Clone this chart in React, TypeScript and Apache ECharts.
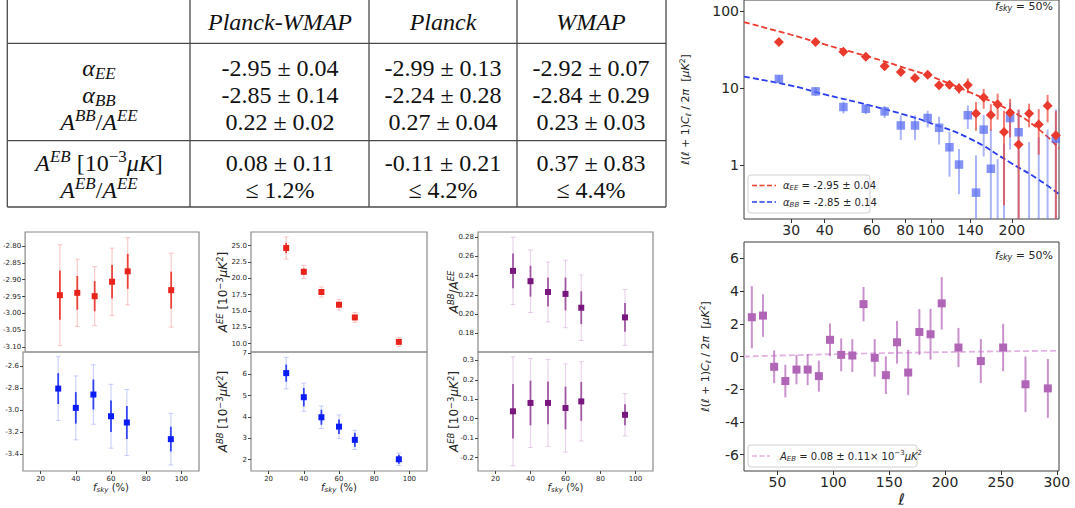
import React, { useEffect, useRef } from "react";
import * as echarts from "echarts";

// ---------------- table content ----------------
const tableHeaders = ["Planck-WMAP", "Planck", "WMAP"];
const tableRowLabels = [
  "{i|α}{sub|EE}",
  "{i|α}{sub|BB}",
  "{i|A}{sup|BB}/{i|A}{sup|EE}",
  "{i|A}{sup|EB} [10{sn|−3}{i|μK}]",
  "{i|A}{sup|EB}/{i|A}{sup|EE}",
];
const rowAlphaEE = ["-2.95 ± 0.04", "-2.99 ± 0.13", "-2.92 ± 0.07"];
const rowAlphaBB = ["-2.85 ± 0.14", "-2.24 ± 0.28", "-2.84 ± 0.29"];
const rowRatioBBEE = ["0.22 ± 0.02", "0.27 ± 0.04", "0.23 ± 0.03"];
const rowAmpEB = ["0.08 ± 0.11", "-0.11 ± 0.21", "0.37 ± 0.83"];
const rowRatioEBEE = ["≤ 1.2%", "≤ 4.2%", "≤ 4.4%"];

// ---------------- f_sky panels ----------------
const fskyPct = [30, 40, 50, 60, 69, 94];
const alphaEE = [-2.946, -2.939, -2.949, -2.906, -2.875, -2.931];
const alphaEEErrIn = [0.073, 0.05, 0.045, 0.05, 0.052, 0.055];
const alphaEEErrOut = [0.15, 0.1, 0.088, 0.1, 0.1, 0.11];
const alphaBB = [-2.802, -2.977, -2.856, -3.053, -3.11, -3.261];
const alphaBBErrIn = [0.14, 0.143, 0.136, 0.143, 0.15, 0.113];
const alphaBBErrOut = [0.29, 0.29, 0.27, 0.29, 0.3, 0.234];
const ampEE = [24.65, 21.0, 17.9, 15.95, 14.0, 10.25];
const ampEEErrIn = [0.8, 0.5, 0.4, 0.4, 0.35, 0.3];
const ampEEErrOut = [1.7, 1.0, 0.77, 0.8, 0.75, 0.7];
const ampBB = [6.06, 4.93, 3.99, 3.55, 2.93, 2.02];
const ampBBErrIn = [0.4, 0.43, 0.35, 0.34, 0.33, 0.21];
const ampBBErrOut = [0.74, 0.66, 0.53, 0.55, 0.45, 0.29];
const ratioBBEE = [0.2449, 0.2342, 0.223, 0.221, 0.2067, 0.1967];
const ratioErrIn = [0.018, 0.016, 0.015, 0.017, 0.017, 0.015];
const ratioErrOut = [0.035, 0.0325, 0.031, 0.035, 0.034, 0.029];
const ampEB = [0.038, 0.081, 0.081, 0.055, 0.089, 0.02];
const ampEBErrIn = [0.14, 0.115, 0.11, 0.11, 0.1, 0.054];
const ampEBErrOut = [0.28, 0.229, 0.223, 0.227, 0.204, 0.109];

// ---------------- power spectra (f_sky = 50%) ----------------
const ellBins = [27, 37, 47, 57, 67, 77, 87, 97, 107, 117, 127, 137, 147, 157, 167, 177, 187, 197, 212, 232, 252, 272, 292];
const dlEE = [40, 40, 29.7, 25.6, 19.3, 16.3, 13.6, 15.0, 10.9, 11.1, 10.0, 11.0, 4.7, 7.6, 4.5, 6.2, 2.7, 4.8, 1.86, 4.7, 3.37, 5.9, 2.45];
const dlEEErr = [3, 2.5, 2.2, 1.8, 1.5, 1.3, 1.2, 1.5, 1.2, 1.3, 1.5, 2.4, 1.9, 2.2, 1.7, 2.3, 2.4, 2.5, 3.4, 1.6, 2.0, 2.3, 2.6];
const dlBB = [13.2, 9.1, 5.7, 5.4, 5.0, 3.28, 3.28, 4.1, 3.06, 1.71, 1.02, 4.46, 0.44, 2.9, 0.9, -0.3, -0.6, 4.1, 2.68, -1.0, -0.8, -0.5, 2.2];
const dlBBErr = [1.5, 1.2, 1.0, 0.8, 0.9, 1.15, 1.15, 1.0, 1.2, 1.0, 0.6, 1.5, 0.9, 1.6, 2.0, 1.5, 2.5, 2.5, 2.6, 3.0, 3.1, 3.4, 3.1];
const dlEB = [2.4, 2.5, -0.63, -1.5, -0.8, -0.8, -1.2, 1.02, 0.1, 0.06, 3.2, -0.08, -1.14, 0.87, -0.98, 1.5, 1.36, 3.25, 0.55, -0.28, 0.55, -1.7, -1.95];
const dlEBErr = [1.9, 1.3, 1.0, 1.0, 0.9, 0.95, 0.95, 1.0, 1.0, 1.0, 1.05, 1.15, 1.15, 1.3, 1.38, 1.4, 1.55, 1.6, 1.2, 1.35, 1.45, 1.7, 1.8];

const fitEll = [20, 30, 40, 60, 80, 100, 140, 200, 250, 300];
const fitEE = [72, 49.5, 37, 25, 18.3, 14.2, 8.8, 5.0, 3.0, 1.65];
const fitBB = [14.1, 10.8, 8.3, 5.9, 4.5, 3.5, 2.2, 1.05, 0.66, 0.42];
const fitEBEll = [20, 100, 200, 302];
const fitEB = [0.0, 0.14, 0.27, 0.35];

// tick labels
const fskyTicks = [20, 40, 60, 80, 100];
const alphaEETicks = [-3.1, -3.05, -3.0, -2.95, -2.9, -2.85, -2.8];
const alphaBBTicks = [-3.4, -3.2, -3.0, -2.8, -2.6];
const ampEETicks = [10, 12.5, 15, 17.5, 20, 22.5, 25];
const ampBBTicks = [2, 3, 4, 5, 6, 7];
const ratioTicks = [0.18, 0.2, 0.22, 0.24, 0.26, 0.28];
const ampEBTicks = [-0.2, -0.1, 0.0, 0.1, 0.2, 0.3];
const ellLogTicks = [30, 40, 60, 80, 100, 140, 200];
const dlLogTicks = [1, 10, 100];
const ellLinTicks = [50, 100, 150, 200, 250, 300];
const ebTicks = [-6, -4, -2, 0, 2, 4, 6];

const SANS = "DejaVu Sans";
const SERIF = "Liberation Serif";
const TXT = "#262626";

const RED = "#e8231c";
const RED_IN = "rgba(232,40,30,0.85)";
const RED_OUT = "rgba(240,80,80,0.3)";
const BLUE = "#0b1cf5";
const BLUE_IN = "rgba(20,40,240,0.85)";
const BLUE_OUT = "rgba(60,80,250,0.25)";
const PURPLE = "#7a177e";
const PURPLE_IN = "rgba(128,30,130,0.7)";
const PURPLE_OUT = "rgba(150,60,160,0.22)";

function axRich(fs: number) {
  return {
    i: { fontStyle: "italic", fontSize: fs, fontFamily: SANS, color: TXT },
    sub: { fontStyle: "italic", fontSize: fs * 0.7, fontFamily: SANS, color: TXT, padding: [fs * 0.5, 0, 0, 0] },
    sup: { fontStyle: "italic", fontSize: fs * 0.7, fontFamily: SANS, color: TXT, padding: [0, 0, fs * 0.6, 0] },
    sn: { fontSize: fs * 0.7, fontFamily: SANS, color: TXT, padding: [0, 0, fs * 0.6, 0] },
  };
}

function fmtFixed(d: number) {
  return (v: number) => (Math.round(v * 1e6) / 1e6).toFixed(d);
}

function valueAxis(grid: number, min: number, max: number, ticks: number[] | null, fmt: any, fs: number, extra: any = {}) {
  return {
    type: "value",
    gridIndex: grid,
    min,
    max,
    axisLine: { show: false, onZero: false },
    splitLine: { show: false },
    axisTick: ticks
      ? { show: true, customValues: ticks, length: 3, lineStyle: { color: "#444", width: 1 } }
      : { show: false },
    axisLabel: ticks
      ? { show: true, customValues: ticks, formatter: fmt, fontSize: fs, color: TXT, fontFamily: SANS, margin: 4 }
      : { show: false },
    ...extra,
  };
}

function errBars(xIdx: number, xs: number[], ys: number[], errs: number[], color: string, width: number, cap: number, clampMin: number | null, z: number) {
  return {
    type: "custom",
    xAxisIndex: xIdx,
    yAxisIndex: xIdx,
    clip: true,
    silent: true,
    z,
    data: xs.map((x, i) => [x, ys[i] - errs[i], ys[i] + errs[i]]),
    encode: { x: 0, y: 2 },
    renderItem: (_p: any, api: any) => {
      const x = api.value(0);
      let lo = api.value(1);
      let hi = api.value(2);
      if (clampMin !== null) {
        lo = Math.max(lo, clampMin);
        hi = Math.max(hi, clampMin);
      }
      const a = api.coord([x, hi]);
      const b = api.coord([x, lo]);
      const children: any[] = [
        { type: "line", shape: { x1: a[0], y1: a[1], x2: b[0], y2: b[1] }, style: { stroke: color, lineWidth: width } },
      ];
      if (cap > 0) {
        children.push({ type: "line", shape: { x1: a[0] - cap, y1: a[1], x2: a[0] + cap, y2: a[1] }, style: { stroke: color, lineWidth: 1 } });
        children.push({ type: "line", shape: { x1: b[0] - cap, y1: b[1], x2: b[0] + cap, y2: b[1] }, style: { stroke: color, lineWidth: 1 } });
      }
      return { type: "group", children };
    },
  };
}

function squares(idx: number, xs: number[], ys: number[], color: string, size: number, z = 6, symbol = "rect") {
  return {
    type: "scatter",
    xAxisIndex: idx,
    yAxisIndex: idx,
    symbol,
    symbolSize: size,
    silent: true,
    z,
    itemStyle: { color, opacity: 1 },
    data: xs.map((x, i) => [x, ys[i]]),
  };
}

function fitLine(idx: number, xs: number[], ys: number[], color: string, width: number) {
  return {
    type: "line",
    xAxisIndex: idx,
    yAxisIndex: idx,
    smooth: true,
    showSymbol: false,
    silent: true,
    z: 2,
    lineStyle: { color, width, type: [6, 3] },
    data: xs.map((x, i) => [x, ys[i]]),
  };
}

function tableGraphics() {
  const els: any[] = [];
  const stroke = "#4a4a4a";
  const L = 7.3, R = 666, C1 = 190, C2 = 369, C3 = 517;
  const yHead = 43.3, ySep = 140.7, yBot = 207;
  const ln = (x1: number, y1: number, x2: number, y2: number) =>
    els.push({ type: "line", shape: { x1, y1, x2, y2 }, style: { stroke, lineWidth: 1.3 }, silent: true });
  [L, C1, C2, C3, R].forEach((x) => ln(x, 0, x, yBot));
  [yHead, ySep, yBot].forEach((y) => ln(L, y, R, y));

  const fs = 24;
  const rich = {
    i: { fontStyle: "italic", fontSize: fs, fontFamily: SERIF, fill: "#111" },
    sub: { fontStyle: "italic", fontSize: 17, fontFamily: SERIF, fill: "#111", padding: [11, 0, 0, 0] },
    sup: { fontStyle: "italic", fontSize: 17, fontFamily: SERIF, fill: "#111", padding: [0, 0, 13, 0] },
    sn: { fontSize: 17, fontFamily: SERIF, fill: "#111", padding: [0, 0, 13, 0] },
  };
  const cell = (text: string, cx: number, cy: number, italic = false) =>
    els.push({
      type: "text",
      x: cx,
      y: cy,
      silent: true,
      style: {
        text,
        fontFamily: SERIF,
        fontSize: fs,
        fontStyle: italic ? "italic" : "normal",
        fill: "#111",
        align: "center",
        verticalAlign: "middle",
        rich,
      },
    });
  const colX = [280, 443, 591];
  tableHeaders.forEach((h, i) => cell(h, colX[i], 22, true));
  const rowY = [68, 95, 122, 163, 190];
  tableRowLabels.forEach((t, i) => cell(t, 99, rowY[i]));
  const rows = [rowAlphaEE, rowAlphaBB, rowRatioBBEE, rowAmpEB, rowRatioEBEE];
  rows.forEach((r, ri) => r.forEach((v, ci) => cell(v, colX[ci], rowY[ri])));
  return els;
}

function legendGraphics() {
  const els: any[] = [];
  const r9 = {
    i: { fontStyle: "italic", fontSize: 10, fontFamily: SANS, fill: TXT },
    sub: { fontStyle: "italic", fontSize: 7, fontFamily: SANS, fill: TXT, padding: [5, 0, 0, 0] },
    sup: { fontSize: 7, fontFamily: SANS, fill: TXT, padding: [0, 0, 6, 0] },
  };
  // top-right legend
  els.push({ type: "rect", shape: { x: 748, y: 175, width: 122, height: 38, r: 3 }, style: { fill: "rgba(255,255,255,0.85)", stroke: "#d0d0d0", lineWidth: 1 }, z: 50 });
  els.push({ type: "line", shape: { x1: 752, y1: 185.5, x2: 776, y2: 185.5 }, style: { stroke: "#ee3b30", lineWidth: 1.6, lineDash: [5, 2.5] }, z: 51 });
  els.push({ type: "line", shape: { x1: 752, y1: 202, x2: 776, y2: 202 }, style: { stroke: "#2a3cf0", lineWidth: 1.6, lineDash: [5, 2.5] }, z: 51 });
  els.push({ type: "text", x: 783, y: 185.5, z: 51, style: { text: "{i|α}{sub|EE} = -2.95 ± 0.04", fontFamily: SANS, fontSize: 10, fill: TXT, verticalAlign: "middle", rich: r9 } });
  els.push({ type: "text", x: 783, y: 202, z: 51, style: { text: "{i|α}{sub|BB} = -2.85 ± 0.14", fontFamily: SANS, fontSize: 10, fill: TXT, verticalAlign: "middle", rich: r9 } });
  // bottom-right legend
  els.push({ type: "rect", shape: { x: 748, y: 445, width: 169, height: 22, r: 3 }, style: { fill: "rgba(255,255,255,0.85)", stroke: "#d0d0d0", lineWidth: 1 }, z: 50 });
  els.push({ type: "line", shape: { x1: 752, y1: 456, x2: 770, y2: 456 }, style: { stroke: "#e2b4e4", lineWidth: 1.6, lineDash: [5, 2.5] }, z: 51 });
  els.push({ type: "text", x: 780, y: 456, z: 51, style: { text: "{i|A}{sub|EB} = 0.08 ± 0.11× 10{sup|−3}{i|μK}{sup|2}", fontFamily: SANS, fontSize: 10, fill: TXT, verticalAlign: "middle", rich: r9 } });
  // f_sky labels
  const rf = {
    i: { fontStyle: "italic", fontSize: 11, fontFamily: SANS, fill: TXT },
    sub: { fontStyle: "italic", fontSize: 8, fontFamily: SANS, fill: TXT, padding: [5, 0, 0, 0] },
  };
  els.push({ type: "text", x: 1053, y: 6, z: 51, style: { text: "{i|f}{sub|sky} = 50%", fontFamily: SANS, fontSize: 11, fill: TXT, align: "right", verticalAlign: "middle", rich: rf } });
  els.push({ type: "text", x: 1053, y: 255, z: 51, style: { text: "{i|f}{sub|sky} = 50%", fontFamily: SANS, fontSize: 11, fill: TXT, align: "right", verticalAlign: "middle", rich: rf } });
  return els;
}

function buildOption() {
  const smallGridBorder = { show: true, borderColor: "#8a8a8a", borderWidth: 1.2, backgroundColor: "transparent" };
  const bigGridBorder = { show: true, borderColor: "#3a3a3a", borderWidth: 1, backgroundColor: "transparent" };
  const grid = [
    { left: 23, top: 232, width: 176, height: 120, ...smallGridBorder },
    { left: 23, top: 352, width: 176, height: 119, ...smallGridBorder },
    { left: 251, top: 232, width: 176, height: 120, ...smallGridBorder },
    { left: 251, top: 352, width: 176, height: 119, ...smallGridBorder },
    { left: 478, top: 232, width: 175, height: 120, ...smallGridBorder },
    { left: 478, top: 352, width: 175, height: 119, ...smallGridBorder },
    { left: 744, top: 0, width: 315, height: 219, ...bigGridBorder },
    { left: 744, top: 242, width: 315, height: 230, ...bigGridBorder },
  ];

  const fskyName = "{i|f}{sub|sky} (%)";
  const xName = (fs: number) => ({
    name: fskyName,
    nameLocation: "middle",
    nameGap: 10,
    nameMoveOverlap: false,
    nameTextStyle: { fontFamily: SANS, fontSize: fs, color: TXT, rich: axRich(fs) },
  });
  const intFmt = (v: number) => String(Math.round(v));

  const xAxis = [
    valueAxis(0, 10, 110, null, null, 7),
    valueAxis(1, 10, 110, fskyTicks, intFmt, 7, xName(10)),
    valueAxis(2, 10, 110, null, null, 7),
    valueAxis(3, 10, 110, fskyTicks, intFmt, 7, xName(10)),
    valueAxis(4, 10, 110, null, null, 7),
    valueAxis(5, 10, 110, fskyTicks, intFmt, 7, xName(10)),
    {
      type: "log",
      logBase: 10,
      gridIndex: 6,
      min: 20,
      max: 300,
      axisLine: { show: false, onZero: false },
      splitLine: { show: false },
      minorTick: { show: false },
      axisTick: { show: true, customValues: ellLogTicks, length: 4, lineStyle: { color: "#333" } },
      axisLabel: { show: true, customValues: ellLogTicks, formatter: intFmt, fontSize: 14, color: TXT, fontFamily: SANS, margin: 4 },
    },
    valueAxis(7, 20, 302, ellLinTicks, intFmt, 14, {
      name: "{i|ℓ}",
      nameLocation: "middle",
      nameGap: 20,
      nameMoveOverlap: false,
      nameTextStyle: { fontFamily: SANS, fontSize: 16, color: TXT, rich: { i: { fontStyle: "italic", fontSize: 16, fontFamily: SANS, color: TXT } } },
      axisTick: { show: true, customValues: ellLinTicks, length: 4, lineStyle: { color: "#333" } },
    }),
  ];

  const yName = (text: string, gap: number, fs: number) => ({
    name: text,
    nameLocation: "middle",
    nameGap: gap,
    nameRotate: 90,
    nameMoveOverlap: false,
    nameTextStyle: { fontFamily: SANS, fontSize: fs, color: TXT, rich: axRich(fs) },
  });
  const ampName = (s: string) => "{i|A}{sup|" + s + "} [10{sn|−3}{i|μK}{sn|2}]";
  const dlName = "{i|ℓ}({i|ℓ} + 1){i|C}{sub|ℓ} / 2{i|π}  [{i|μK}{sn|2}]";

  const yAxis = [
    valueAxis(0, -3.115, -2.758, alphaEETicks, fmtFixed(2), 7),
    valueAxis(1, -3.55, -2.47, alphaBBTicks, fmtFixed(1), 7),
    valueAxis(2, 8.7, 27.1, ampEETicks, fmtFixed(1), 7, yName(ampName("EE"), 20, 12)),
    valueAxis(3, 1.47, 7.05, ampBBTicks, intFmt, 7, yName(ampName("BB"), 20, 12)),
    valueAxis(4, 0.1608, 0.2852, ratioTicks, fmtFixed(2), 7, yName("{i|A}{sup|BB}/{i|A}{sup|EE}", 16, 12)),
    valueAxis(5, -0.269, 0.343, ampEBTicks, fmtFixed(1), 7, yName(ampName("EB"), 16, 12)),
    {
      type: "log",
      logBase: 10,
      gridIndex: 6,
      min: 0.2,
      max: 140,
      axisLine: { show: false, onZero: false },
      splitLine: { show: false },
      minorTick: { show: false },
      axisTick: { show: true, customValues: dlLogTicks, length: 4, lineStyle: { color: "#333" } },
      axisLabel: { show: true, customValues: dlLogTicks, formatter: intFmt, fontSize: 14, color: TXT, fontFamily: SANS, margin: 5 },
      ...yName(dlName, 51, 11),
    },
    valueAxis(7, -7, 7, ebTicks, intFmt, 14, {
      ...yName(dlName, 31, 11),
      axisTick: { show: true, customValues: ebTicks, length: 4, lineStyle: { color: "#333" } },
      axisLabel: { show: true, customValues: ebTicks, formatter: intFmt, fontSize: 14, color: TXT, fontFamily: SANS, margin: 5 },
    }),
  ];

  const series: any[] = [
    // alpha EE
    errBars(0, fskyPct, alphaEE, alphaEEErrOut, RED_OUT, 1.2, 2.5, null, 3),
    errBars(0, fskyPct, alphaEE, alphaEEErrIn, RED_IN, 1.8, 0, null, 4),
    squares(0, fskyPct, alphaEE, RED, 6),
    // alpha BB
    errBars(1, fskyPct, alphaBB, alphaBBErrOut, BLUE_OUT, 1.2, 2.5, null, 3),
    errBars(1, fskyPct, alphaBB, alphaBBErrIn, BLUE_IN, 1.8, 0, null, 4),
    squares(1, fskyPct, alphaBB, BLUE, 6),
    // A EE
    errBars(2, fskyPct, ampEE, ampEEErrOut, RED_OUT, 1.2, 2.5, null, 3),
    errBars(2, fskyPct, ampEE, ampEEErrIn, RED_IN, 1.8, 0, null, 4),
    squares(2, fskyPct, ampEE, RED, 6),
    // A BB
    errBars(3, fskyPct, ampBB, ampBBErrOut, BLUE_OUT, 1.2, 2.5, null, 3),
    errBars(3, fskyPct, ampBB, ampBBErrIn, BLUE_IN, 1.8, 0, null, 4),
    squares(3, fskyPct, ampBB, BLUE, 6),
    // ratio
    errBars(4, fskyPct, ratioBBEE, ratioErrOut, PURPLE_OUT, 1.2, 2.5, null, 3),
    errBars(4, fskyPct, ratioBBEE, ratioErrIn, PURPLE_IN, 1.8, 0, null, 4),
    squares(4, fskyPct, ratioBBEE, PURPLE, 6),
    // A EB
    errBars(5, fskyPct, ampEB, ampEBErrOut, PURPLE_OUT, 1.2, 2.5, null, 3),
    errBars(5, fskyPct, ampEB, ampEBErrIn, PURPLE_IN, 1.8, 0, null, 4),
    squares(5, fskyPct, ampEB, PURPLE, 6),
    // top-right: EE / BB spectra
    fitLine(6, fitEll, fitEE, "#ee3b30", 1.8),
    fitLine(6, fitEll, fitBB, "#2a3cf0", 1.8),
    errBars(6, ellBins, dlBB, dlBBErr, "rgba(90,110,240,0.5)", 2, 0, 0.01, 3),
    errBars(6, ellBins, dlEE, dlEEErr, "rgba(235,55,45,0.65)", 2, 0, 0.01, 4),
    {
      ...squares(6, ellBins, dlBB, "rgba(90,110,240,0.75)", 8.5, 5),
      data: ellBins.map((x, i) => [x, dlBB[i]]).filter((d) => d[1] > 0),
    },
    squares(6, ellBins, dlEE, "#ea3a2e", 10, 6, "diamond"),
    // bottom-right: EB spectrum
    fitLine(7, fitEBEll, fitEB, "#e2b4e4", 1.8),
    errBars(7, ellBins, dlEB, dlEBErr, "rgba(178,100,184,0.7)", 2, 0, null, 4),
    squares(7, ellBins, dlEB, "#b065b6", 8, 6),
  ];

  return {
    animation: false,
    backgroundColor: "#ffffff",
    textStyle: { fontFamily: SANS },
    grid,
    xAxis,
    yAxis,
    series,
    graphic: { elements: [...tableGraphics(), ...legendGraphics()] },
  };
}

export default function App() {
  const ref = useRef<HTMLDivElement>(null);
  useEffect(() => {
    const el = ref.current;
    if (!el) return;
    const chart = echarts.init(el, undefined, { renderer: "svg", width: 1075, height: 508 });
    chart.setOption(buildOption() as any);
    return () => chart.dispose();
  }, []);
  return <div ref={ref} style={{ position: "absolute", left: 0, top: 0, width: 1075, height: 508, background: "#fff" }} />;
}
